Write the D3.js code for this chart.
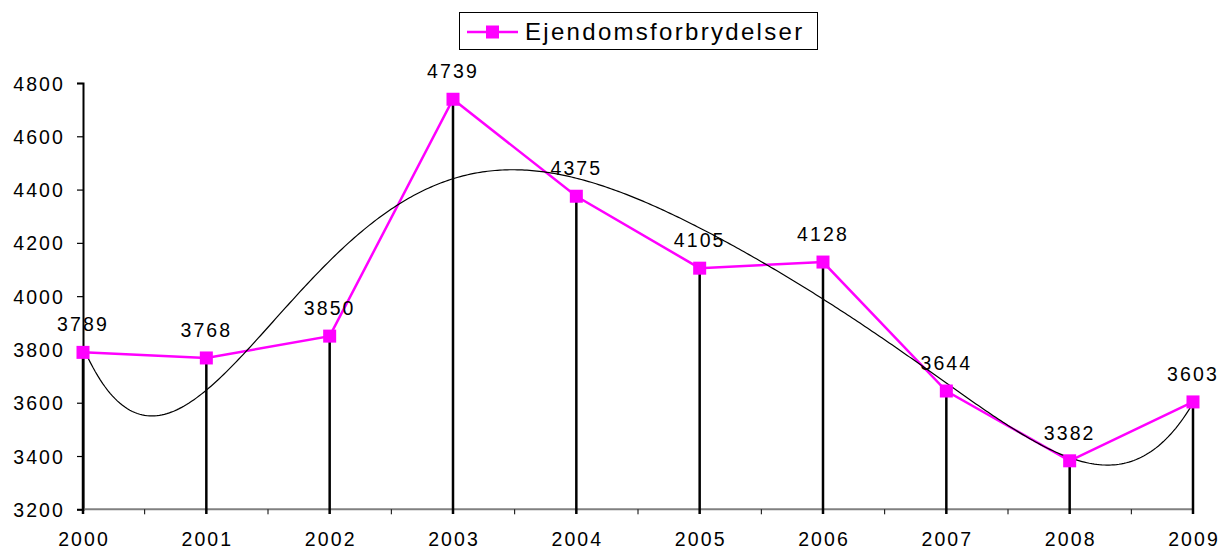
<!DOCTYPE html>
<html><head><meta charset="utf-8">
<script src="https://cdn.jsdelivr.net/npm/d3@7"></script>
<style>
html,body{margin:0;padding:0;background:#fff;}
text{font-family:"Liberation Sans",Arial,sans-serif;fill:#000;}
</style></head>
<body>
<svg id="c" width="1221" height="549"></svg>
<script>
const years = ["2000","2001","2002","2003","2004","2005","2006","2007","2008","2009"];
const values = [3789,3768,3850,4739,4375,4105,4128,3644,3382,3603];
const yTicks = [3200,3400,3600,3800,4000,4200,4400,4600,4800];
const seriesName = "Ejendomsforbrydelser";
const trendOrder = 6;

const svg = d3.select("#c");
const x = d3.scaleLinear().domain([0, years.length-1]).range([83, 1193]);
const y = d3.scaleLinear().domain([3200,4800]).range([509.3, 83]);
const magenta = "#ff00ff";
const LS = 2.1;

// polynomial least-squares trendline
function polyfit(xs, ys, order){
  const n = order+1;
  const A = Array.from({length:n},()=>new Array(n+1).fill(0));
  xs.forEach((xv,i)=>{
    for(let r=0;r<n;r++){
      for(let c=0;c<n;c++) A[r][c]+=Math.pow(xv,r+c);
      A[r][n]+=ys[i]*Math.pow(xv,r);
    }
  });
  for(let p=0;p<n;p++){
    let mx=p; for(let r=p+1;r<n;r++) if(Math.abs(A[r][p])>Math.abs(A[mx][p])) mx=r;
    [A[p],A[mx]]=[A[mx],A[p]];
    for(let r=0;r<n;r++){ if(r===p) continue; const f=A[r][p]/A[p][p]; for(let c=p;c<=n;c++) A[r][c]-=f*A[p][c]; }
  }
  return A.map((row,i)=>row[n]/row[i]);
}
const mid = (years.length-1)/2;
const tx = values.map((v,i)=>(i-mid)/mid);
const coef = polyfit(tx, values, trendOrder);
const trendFn = t => coef.reduce((s,c,k)=>s+c*Math.pow((t-mid)/mid,k),0);
const trendPts = d3.range(0, years.length-1+1e-9, 0.02).map(t=>[t, trendFn(t)]);

// y axis
const yAxis = d3.axisLeft(y).tickValues(yTicks).tickSize(6).tickPadding(12).tickFormat(d3.format("d"));
const gy = svg.append("g").attr("transform","translate(83,0)").call(yAxis);
gy.select(".domain").attr("stroke","#000").attr("stroke-width",2);
gy.selectAll(".tick line").attr("stroke","#000").attr("stroke-width",1.2);
gy.selectAll(".tick text").style("font-size","19.5px").style("letter-spacing",LS+"px").attr("dy","0.36em").attr("x",-18);

// x axis
const gx = svg.append("g").attr("transform","translate(0,509.3)");
gx.append("line").attr("x1",83).attr("x2",1193).attr("stroke","#808080").attr("stroke-width",2);
gx.selectAll(".minor").data(d3.range(0.5, years.length-1, 1)).join("line")
  .attr("x1",d=>x(d)).attr("x2",d=>x(d)).attr("y1",0).attr("y2",5).attr("stroke","#000").attr("stroke-width",1);
gx.selectAll(".lbl").data(years).join("text")
  .attr("x",(d,i)=>x(i)+LS/2).attr("y",37).attr("text-anchor","middle")
  .style("font-size","19.5px").style("letter-spacing",LS+"px").text(d=>d);

// drop lines
svg.append("g").selectAll("line").data(values).join("line")
  .attr("x1",(d,i)=>x(i)).attr("x2",(d,i)=>x(i))
  .attr("y1",d=>y(d)).attr("y2",514)
  .attr("stroke","#000").attr("stroke-width",2.5);

// series line
svg.append("path").datum(values)
  .attr("d", d3.line().x((d,i)=>x(i)).y(d=>y(d)))
  .attr("fill","none").attr("stroke",magenta).attr("stroke-width",2.5);

// trendline
svg.append("path").datum(trendPts)
  .attr("d", d3.line().x(d=>x(d[0])).y(d=>y(d[1])))
  .attr("fill","none").attr("stroke","#000").attr("stroke-width",1.2);

// markers
svg.append("g").selectAll("rect").data(values).join("rect")
  .attr("x",(d,i)=>x(i)-6.5).attr("y",d=>y(d)-6.5).attr("width",13).attr("height",13)
  .attr("fill",magenta);

// data labels
svg.append("g").selectAll("text").data(values).join("text")
  .attr("x",(d,i)=>x(i)).attr("y",d=>y(d)-21).attr("text-anchor","middle")
  .style("font-size","19.5px").style("letter-spacing",LS+"px").text(d=>d);

// legend
const lg = svg.append("g");
lg.append("rect").attr("x",459.5).attr("y",12.5).attr("width",358).attr("height",37)
  .attr("fill","#fff").attr("stroke","#000").attr("stroke-width",1);
lg.append("line").attr("x1",467).attr("x2",518).attr("y1",32).attr("y2",32).attr("stroke",magenta).attr("stroke-width",2.5);
lg.append("rect").attr("x",486).attr("y",25.5).attr("width",13).attr("height",13).attr("fill",magenta);
lg.append("text").attr("x",525).attr("y",40).style("font-size","24px").style("letter-spacing","2.3px").text(seriesName);
</script>
</body></html>
